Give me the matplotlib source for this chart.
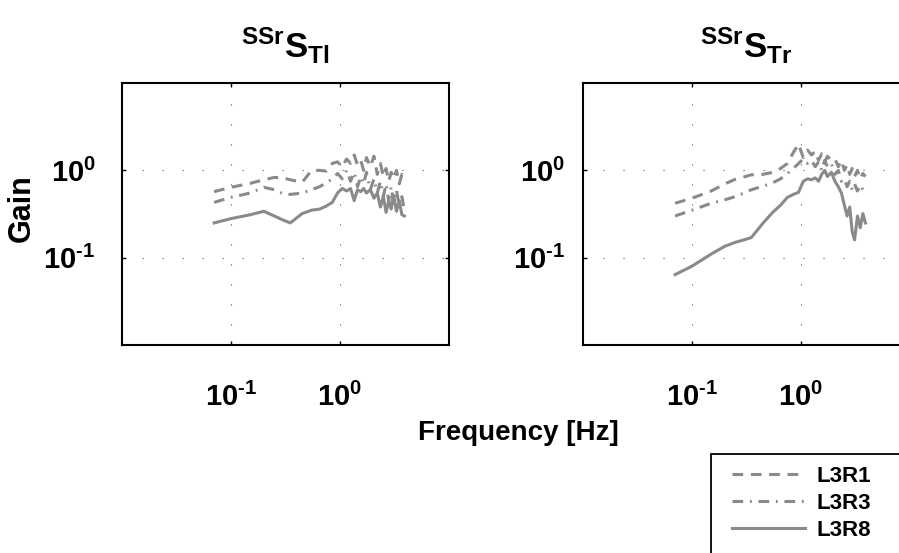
import matplotlib
matplotlib.use('Agg')
import matplotlib.pyplot as plt
from matplotlib.patches import Rectangle
from matplotlib.ticker import FixedLocator, NullLocator

# Fuentes en negrita estilo Helvetica
plt.rcParams['font.family'] = ['Liberation Sans', 'DejaVu Sans']
plt.rcParams['font.weight'] = 'bold'
plt.rcParams['mathtext.fontset'] = 'custom'
plt.rcParams['mathtext.rm'] = 'Liberation Sans:bold'
plt.rcParams['mathtext.it'] = 'Liberation Sans:bold'
plt.rcParams['mathtext.bf'] = 'Liberation Sans:bold'

# Frecuencias (Hz), comunes a todas las curvas
freq = [0.07, 0.1, 0.15, 0.2, 0.25, 0.3, 0.35, 0.45, 0.55, 0.65, 0.75, 0.85,
        0.95, 1.05, 1.15, 1.25, 1.35, 1.45, 1.55, 1.65, 1.75, 1.9, 2.05, 2.2,
        2.35, 2.5, 2.65, 2.8, 2.95, 3.1, 3.3, 3.5, 3.7, 3.9]

# Ganancia S_Tl
tl_l3r1 = [0.57, 0.64, 0.71, 0.78, 0.83, 0.82, 0.78, 0.73, 1.0, 1.0, 0.98, 1.2,
           1.25, 1.1, 1.35, 1.2, 1.5, 1.15, 1.3, 1.0, 1.4, 1.1, 1.45, 0.9,
           1.2, 0.85, 1.05, 0.75, 0.95, 0.8, 1.0, 0.7, 0.9, 0.75]
tl_l3r3 = [0.43, 0.49, 0.55, 0.64, 0.6, 0.54, 0.53, 0.55, 0.6, 0.65, 0.72, 0.8,
           0.92, 0.8, 1.0, 0.75, 0.95, 0.65, 0.85, 0.7, 0.95, 0.6, 0.8, 0.55,
           0.75, 0.5, 0.7, 0.45, 0.65, 0.42, 0.6, 0.38, 0.5, 0.35]
tl_l3r8 = [0.25, 0.28, 0.31, 0.34, 0.30, 0.27, 0.25, 0.32, 0.35, 0.36, 0.39, 0.43,
           0.55, 0.62, 0.58, 0.62, 0.45, 0.6, 0.57, 0.62, 0.55, 0.6, 0.48, 0.55,
           0.38, 0.5, 0.33, 0.45, 0.36, 0.52, 0.34, 0.45, 0.31, 0.30]

# Ganancia S_Tr
tr_l3r1 = [0.42, 0.48, 0.58, 0.70, 0.79, 0.84, 0.89, 0.9, 0.95, 1.05, 1.2, 1.6,
           2.0, 1.4, 1.7, 1.5, 1.65, 1.3, 1.55, 1.25, 1.45, 1.3, 1.35, 1.1,
           1.3, 1.0, 1.15, 0.9, 1.05, 0.85, 1.0, 0.8, 0.92, 0.85]
tr_l3r3 = [0.30, 0.35, 0.42, 0.46, 0.5, 0.55, 0.6, 0.66, 0.72, 0.8, 0.92, 1.05,
           1.2, 1.35, 1.2, 1.3, 1.1, 1.25, 1.0, 1.3, 1.1, 1.2, 0.9, 1.0,
           0.75, 0.8, 0.65, 0.75, 0.6, 0.7, 0.58, 0.68, 0.6, 0.65]
tr_l3r8 = [0.064, 0.08, 0.11, 0.135, 0.15, 0.16, 0.17, 0.25, 0.33, 0.40, 0.49, 0.53,
           0.56, 0.75, 0.8, 0.78, 0.82, 0.75, 0.9, 1.0, 0.85, 0.95, 0.75, 0.65,
           0.55, 0.4, 0.3, 0.38, 0.2, 0.16, 0.3, 0.22, 0.32, 0.25]

etiquetas = ['L3R1', 'L3R3', 'L3R8']
estilos = [(0, (3.5, 2.5)), (0, (3.5, 2.2, 0.6, 2.2)), '-']
xticks = [0.1, 1.0]
yticks = [0.1, 1.0]
xticklabels = [r'$10^{\text{-1}}$', r'$10^{\text{0}}$']
yticklabels = [r'$10^{\text{-1}}$', r'$10^{\text{0}}$']

gris = '#8a8a8a'

fig = plt.figure(figsize=(8.99, 5.53), dpi=100)
ax1 = fig.add_axes([0.1357, 0.3761, 0.3637, 0.4738])
ax2 = fig.add_axes([0.6485, 0.3761, 0.3637, 0.4738])

paneles = [
    (ax1, [tl_l3r1, tl_l3r3, tl_l3r8], r'${}^{\mathrm{SSr}}\mathrm{S}_{\mathrm{Tl}}$', 19),
    (ax2, [tr_l3r1, tr_l3r3, tr_l3r8], r'${}^{\mathrm{SSr}}\mathrm{S}_{\mathrm{Tr}}$', 13),
]

for ax, series, titulo, ypad in paneles:
    for g, ls, lab in zip(series, estilos, etiquetas):
        ax.plot(freq, g, color=gris, lw=2.2, linestyle=ls, label=lab)
    ax.set_xscale('log')
    ax.set_yscale('log')
    ax.set_xlim(0.01, 10)
    ax.set_ylim(0.01, 10)
    ax.xaxis.set_major_locator(FixedLocator(xticks))
    ax.yaxis.set_major_locator(FixedLocator(yticks))
    ax.xaxis.set_minor_locator(NullLocator())
    ax.yaxis.set_minor_locator(NullLocator())
    ax.set_xticklabels(xticklabels, fontsize=21)
    ax.set_yticklabels(yticklabels, fontsize=21)
    ax.tick_params(axis='x', direction='in', length=3, width=1, pad=27,
                   top=True)
    ax.tick_params(axis='y', direction='in', length=3, width=1, pad=ypad,
                   right=True)
    ax.grid(True, which='major', color='#555555', lw=0.8,
            linestyle=(0, (1, 17)))
    for sp in ax.spines.values():
        sp.set_linewidth(1.5)
        sp.set_color('black')
    ax.set_title(titulo, fontsize=25, pad=18)

fig.text(22 / 899, 1 - 208 / 553, 'Gain', rotation=90, ha='center',
         va='center', fontsize=22, fontweight='bold')
fig.text(518 / 899, 1 - 433 / 553, 'Frequency [Hz]', ha='center',
         va='center', fontsize=20, fontweight='bold')

# Leyenda sin marco; el recuadro se dibuja aparte y sale por el borde
h, l = ax1.get_legend_handles_labels()
fig.legend(h, l, loc='upper left',
           bbox_to_anchor=(732 / 899, 1 - 466 / 553),
           fontsize=16, frameon=False, borderpad=0, labelspacing=0.26,
           handlelength=3.3, handletextpad=0.5, borderaxespad=0)
fig.patches.append(Rectangle((711 / 899, -0.05), 0.3, 0.05 + 1 - 454 / 553,
                             transform=fig.transFigure, facecolor='none',
                             edgecolor='black', lw=1.3, zorder=0))

fig.savefig('out.png', dpi=100)
